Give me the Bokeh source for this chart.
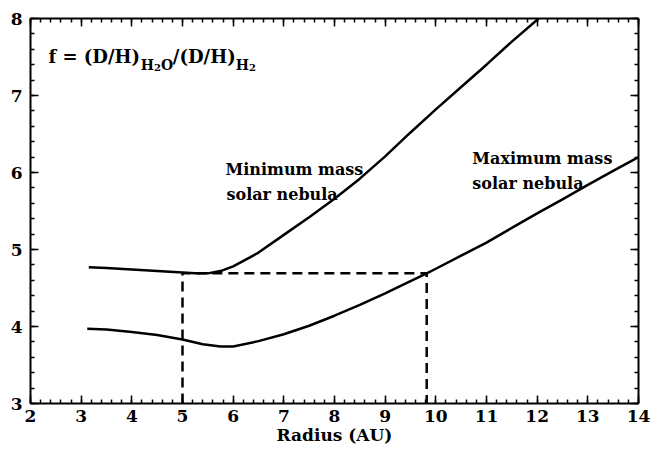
from bokeh.plotting import figure
from bokeh.models import Range1d, LinearAxis, SingleIntervalTicker, Label
from bokeh.embed import file_html
from bokeh.resources import INLINE

# ---- data ----
min_r = [3.15, 3.5, 4.0, 4.5, 5.0, 5.25, 5.5, 5.75, 6.0, 6.34, 6.5, 7.0, 7.5, 8.0,
         8.5, 9.0, 9.5, 10.0, 10.5, 11.0, 11.5, 12.03]
min_f = [4.77, 4.76, 4.74, 4.72, 4.70, 4.69, 4.69, 4.72, 4.78, 4.90, 4.96, 5.19,
         5.42, 5.66, 5.92, 6.21, 6.52, 6.82, 7.11, 7.40, 7.70, 8.00]

max_r = [3.12, 3.5, 4.0, 4.5, 5.0, 5.4, 5.75, 6.0, 6.5, 7.0, 7.5, 8.0, 8.5, 9.0,
         9.5, 9.82, 10.0, 10.5, 11.0, 11.5, 12.0, 12.5, 13.0, 13.5, 14.0]
max_f = [3.97, 3.96, 3.93, 3.89, 3.83, 3.77, 3.74, 3.74, 3.81, 3.90, 4.01, 4.14,
         4.28, 4.43, 4.59, 4.69, 4.75, 4.92, 5.09, 5.28, 5.47, 5.65, 5.84, 6.02, 6.20]

dash_r = [5.0, 5.0, 9.82, 9.82]
dash_f = [3.0, 4.69, 4.69, 3.0]

x_label = "Radius (AU)"
FONT = "DejaVu Serif"

p = figure(width=656, height=449, output_backend="svg", toolbar_location=None,
           x_range=Range1d(2, 14), y_range=Range1d(3, 8),
           x_axis_location=None, y_axis_location=None,
           min_border_left=30, min_border_right=18, min_border_top=18,
           min_border_bottom=46)
p.outline_line_color = None
p.xgrid.visible = False
p.ygrid.visible = False
p.background_fill_color = "white"
p.border_fill_color = "white"


def make_axis(show_labels, standoff=6):
    ax = LinearAxis(ticker=SingleIntervalTicker(interval=1, num_minor_ticks=5))
    ax.axis_line_width = 2
    ax.axis_line_color = "black"
    ax.major_tick_in = 8
    ax.major_tick_out = 0
    ax.minor_tick_in = 4
    ax.minor_tick_out = 0
    ax.major_tick_line_width = 1.5
    ax.minor_tick_line_width = 1.5
    ax.major_tick_line_color = "black"
    ax.minor_tick_line_color = "black"
    ax.major_label_text_font = FONT
    ax.major_label_text_font_style = "bold"
    if show_labels:
        ax.major_label_text_color = "black"
        ax.major_label_text_font_size = "17px"
        ax.major_label_standoff = standoff
    else:
        ax.major_label_text_color = None
        ax.major_label_text_font_size = "1px"
        ax.major_label_standoff = 0
    return ax


xaxis = make_axis(True, 6)
xaxis.axis_label = x_label
xaxis.axis_label_text_font = FONT
xaxis.axis_label_text_font_style = "bold"
xaxis.axis_label_text_font_size = "17px"
xaxis.axis_label_text_color = "black"
xaxis.axis_label_standoff = 0
p.add_layout(xaxis, "below")
p.add_layout(make_axis(True, 8), "left")
p.add_layout(make_axis(False), "above")
p.add_layout(make_axis(False), "right")

p.line(min_r, min_f, line_color="black", line_width=2.5)
p.line(max_r, max_f, line_color="black", line_width=2.5)
p.line(dash_r, dash_f, line_color="black", line_width=2.5, line_dash="10 6")


def lab(x, y, text, size, align="left"):
    p.add_layout(Label(x=x, y=y, text=text, text_font=FONT, text_font_style="bold",
                       text_font_size=size, text_color="black",
                       text_align=align, text_baseline="alphabetic"))


# formula  f = (D/H)_{H2O} / (D/H)_{H2}
lab(2.355, 7.506, "f = (D/H)", "18px")
lab(4.175, 7.398, "H", "14px")
lab(4.437, 7.370, "2", "10px")
lab(4.575, 7.398, "O", "14px")
lab(4.810, 7.506, "/(D/H)", "18px")
lab(6.050, 7.398, "H", "14px")
lab(6.312, 7.370, "2", "10px")

# curve labels
lab(5.848, 6.039, "Minimum mass", "16px")
lab(5.868, 5.714, "solar nebula", "16px")
lab(10.72, 6.18, "Maximum mass", "16px")
lab(10.72, 5.857, "solar nebula", "16px")

open("out.html", "w").write(file_html(p, INLINE))
